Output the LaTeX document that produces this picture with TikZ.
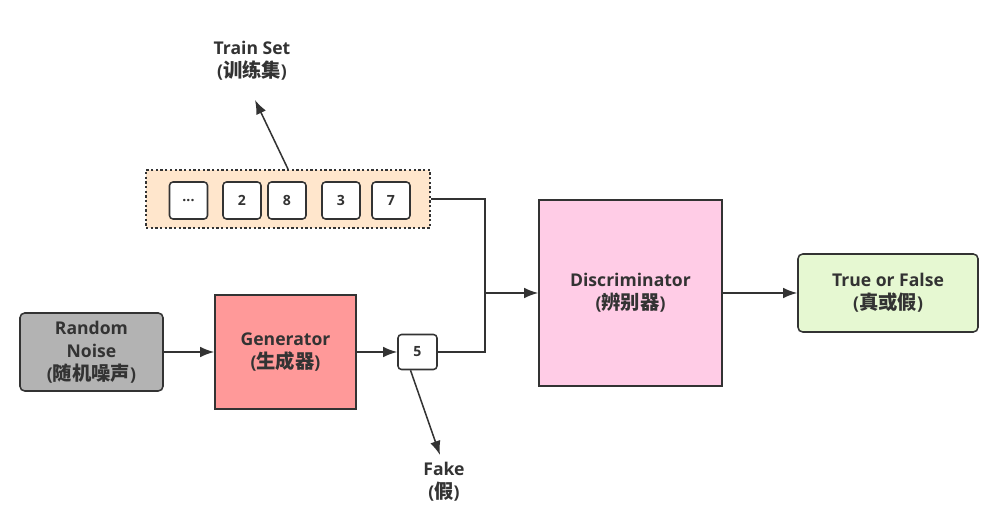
\documentclass[tikz,border=0pt]{standalone}
\usepackage{fontspec}
\setmainfont{Open Sans}
\newfontfamily\cjk{Noto Sans CJK SC}[Scale=1.1]
\newcommand\zh[1]{{\cjk #1}}
\usetikzlibrary{arrows.meta,calc,positioning}
\definecolor{inkgray}{HTML}{333333}
\definecolor{noisegray}{HTML}{B3B3B3}
\definecolor{genred}{HTML}{FF9999}
\definecolor{discpink}{HTML}{FFCCE6}
\definecolor{outgreen}{HTML}{E6F8D2}
\definecolor{setorange}{HTML}{FFE6CC}
\tikzset{
  blk/.style={draw=inkgray, line width=1.3pt, align=center, text=inkgray,
    font=\fontsize{15}{19.5}\selectfont\bfseries, inner sep=0pt},
  cell/.style={draw=inkgray, line width=1.3pt, rounded corners=3pt, fill=white,
    text=inkgray, font=\fontsize{12}{14}\selectfont\bfseries,
    minimum width=1.14cm, minimum height=1.11cm, inner sep=0pt},
  setbox/.style={draw=inkgray, line width=1.5pt, dash pattern=on 2pt off 2pt,
    fill=setorange, minimum width=8.52cm, minimum height=1.74cm},
  lbl/.style={align=center, text=inkgray,
    font=\fontsize{15}{19.5}\selectfont\bfseries},
  link/.style={draw=inkgray, line width=1.3pt}
}
\begin{document}
\begin{tikzpicture}[x=0.03cm,y=-0.03cm,>={Latex[length=12pt,width=9pt]}]
  \useasboundingbox (0,0) rectangle (994,513);
  % train set
  \node[setbox] (trainset) at (288,199) {};
  \node[cell] (c0) at (188.5,200.5) {...};
  \node[cell] (c2) at (242,200.5) {2};
  \node[cell] (c8) at (287,200.5) {8};
  \node[cell] (c3) at (341,200.5) {3};
  \node[cell] (c7) at (391,200.5) {7};
  \node[lbl] (trainlbl) at (252,61) {Train Set\\(\zh{训练集})};
  \coordinate (trainend) at (255,100);
  \draw[link,->] (trainset.north) -- (trainend);
  % generator side
  \node[blk,fill=noisegray,rounded corners=4pt,minimum width=4.29cm,
    minimum height=2.34cm] (noise) at (91.5,352) {Random\\Noise\\(\zh{随机噪声})};
  \node[blk,fill=genred,minimum width=4.23cm,minimum height=3.42cm]
    (gen) at (285.5,352) {Generator\\(\zh{生成器})};
  \node[cell,minimum width=1.17cm,minimum height=1.05cm] (five) at (417.5,352) {5};
  \node[lbl] (fakelbl) at (444,482) {Fake\\(\zh{假})};
  \coordinate (fakeend) at (440,455);
  % discriminator side
  \node[blk,fill=discpink,minimum width=5.49cm,minimum height=5.58cm]
    (disc) at (630.5,293) {Discriminator\\(\zh{辨别器})};
  \node[blk,fill=outgreen,rounded corners=4pt,minimum width=5.4cm,
    minimum height=2.34cm] (out) at (888,293) {True or False\\(\zh{真或假})};
  \coordinate (join) at (485,293);
  \draw[link] (trainset.east) -| (join);
  \draw[link] (five.east) -| (join);
  \draw[link,->] (join) -- (disc.west);
  \draw[link,->] (noise) -- (gen);
  \draw[link,->] (gen) -- (five);
  \draw[link,->] ($(five.south)+(-7,0)$) -- (fakeend);
  \draw[link,->] (disc) -- (out);
\end{tikzpicture}
\end{document}
